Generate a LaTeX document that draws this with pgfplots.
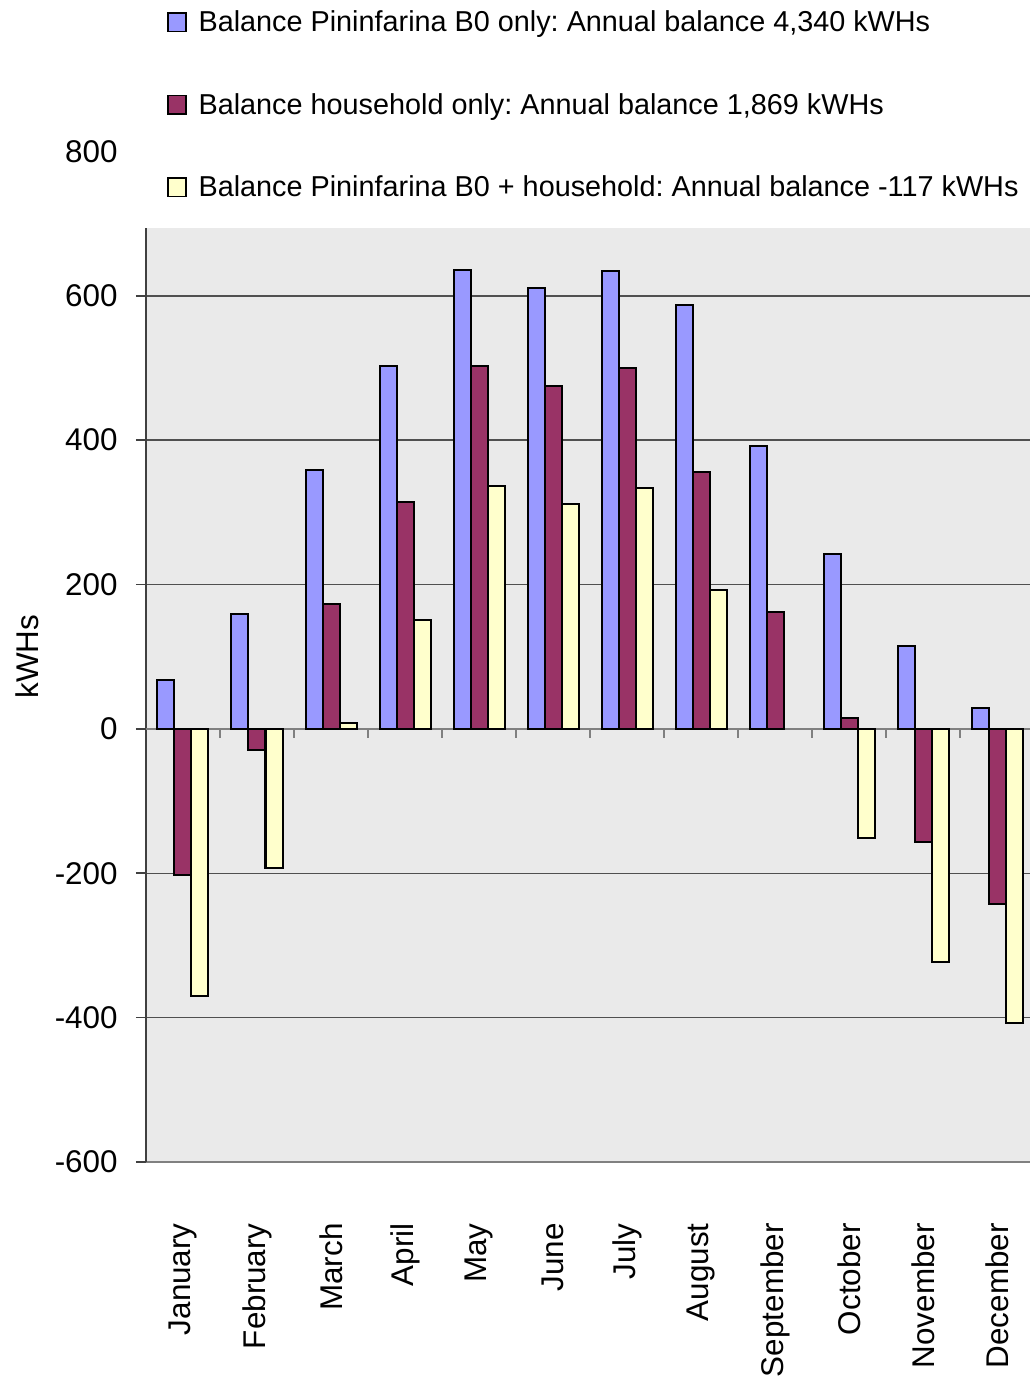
\documentclass[border=0pt]{standalone}
\usepackage{fontspec}
\setmainfont{Liberation Sans}
\usepackage{pgfplots}
\pgfplotsset{compat=1.18}

\definecolor{barblue}{HTML}{9999FF}
\definecolor{barmaroon}{HTML}{993366}
\definecolor{baryellow}{HTML}{FFFFCC}
\definecolor{plotbg}{HTML}{EAEAEA}
\definecolor{griddark}{HTML}{505050}
\definecolor{axgray}{HTML}{808080}
\definecolor{axdark}{HTML}{404040}

\newcommand{\axisfont}{\fontsize{15.7}{18}\selectfont}

\pgfplotsset{
  legbox/.style={legend image code/.code={
      \draw[##1, line width=0.8pt] (0pt,-3.6pt) rectangle (9pt,5.7pt);}},
}

\begin{document}
\frenchspacing
\begin{tikzpicture}
\begin{axis}[
  at={(0,0)}, anchor=south west,
  scale only axis, width=444pt, height=467pt,
  xmin=-0.5, xmax=11.5, ymin=-600, ymax=694,
  ybar=0pt, bar width=8.5pt,
  axis background/.style={fill=plotbg},
  axis x line*=bottom, axis y line*=left,
  x axis line style={draw=axgray, line width=1.3pt},
  y axis line style={draw=axdark, line width=0.9pt},
  xtick={0,...,11},
  xticklabels={January,February,March,April,May,June,July,August,September,October,November,December},
  x tick style={draw=none},
  ytick={-600,-400,...,600},
  y tick style={draw=axdark, line width=0.8pt},
  tick align=outside, major tick length=5pt,
  ymajorgrids, major grid style={draw=griddark, line width=0.75pt},
  tick label style={font=\axisfont},
  /pgf/number format/assume math mode=true,
  yticklabel style={anchor=east, inner sep=0pt, xshift=-9pt},
  xticklabel style={yshift=-25.5pt, rotate=90, anchor=east, inner sep=0pt},
  ylabel={kWHs},
  ylabel style={font=\axisfont, at={(axis description cs:-0.1216,0.541)}, anchor=base},
  clip=false,
  legend style={
    at={(rel axis cs:0,1)}, anchor=north west, xshift=10.5pt, yshift=108.5pt,
    draw=none, fill=none, inner sep=0pt, outer sep=0pt,
    row sep=27.75pt, column sep=6pt,
    font=\fontsize{14.4}{17}\selectfont,
    nodes={inner sep=0pt, text height=10.5pt, text depth=3pt},
  },
  legend cell align=left,
]
% zero line with category separators
\draw[axgray, line width=1.2pt] (axis cs:-0.5,0) -- (axis cs:11.5,0);
\pgfplotsinvokeforeach{0.5,1.5,2.5,3.5,4.5,5.5,6.5,7.5,8.5,9.5,10.5}{
  \draw[axgray, line width=1pt] (axis cs:#1,0) -- ++(0pt,-4.5pt);
}

\addplot[legbox, fill=barblue, draw=black, line width=1pt] coordinates {
  (0,68) (1,159) (2,359) (3,503) (4,636) (5,611)
  (6,634) (7,587) (8,392) (9,242) (10,115) (11,29)};
\addlegendentry{Balance Pininfarina B0 only: Annual balance 4,340 kWHs}

\addplot[legbox, fill=barmaroon, draw=black, line width=1pt] coordinates {
  (0,-203) (1,-29) (2,173) (3,314) (4,503) (5,475)
  (6,500) (7,356) (8,162) (9,15) (10,-157) (11,-242)};
\addlegendentry{Balance household only: Annual balance 1,869 kWHs}

\addplot[legbox, fill=baryellow, draw=black, line width=1pt] coordinates {
  (0,-370) (1,-193) (2,8) (3,151) (4,337) (5,312)
  (6,334) (7,193) (9,-151) (10,-323) (11,-408)};
\addlegendentry{Balance Pininfarina B0 + household: Annual balance -117 kWHs}

\node[anchor=east, inner sep=0pt, font=\axisfont, xshift=-14pt] at (axis cs:-0.5,800) {800};
\end{axis}
\pgfresetboundingbox
\path (-73pt,-111.5pt) rectangle (441.5pt,581pt);
\end{tikzpicture}
\end{document}
